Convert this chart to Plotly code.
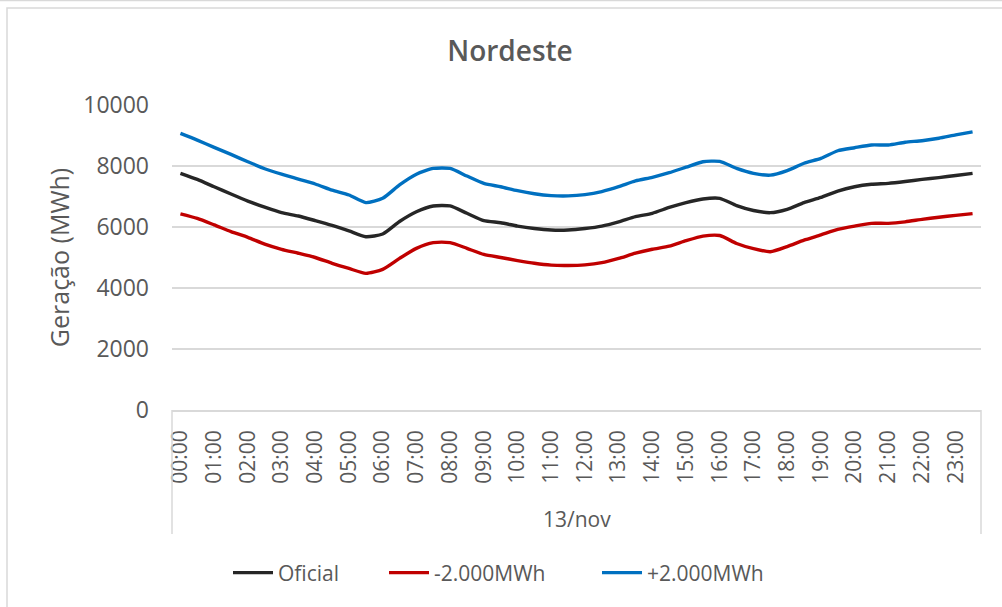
import plotly.graph_objects as go

# Half-hourly slots of 13/nov
horarios = [
    "00:00", "00:30", "01:00", "01:30", "02:00", "02:30", "03:00", "03:30",
    "04:00", "04:30", "05:00", "05:30", "06:00", "06:30", "07:00", "07:30",
    "08:00", "08:30", "09:00", "09:30", "10:00", "10:30", "11:00", "11:30",
    "12:00", "12:30", "13:00", "13:30", "14:00", "14:30", "15:00", "15:30",
    "16:00", "16:30", "17:00", "17:30", "18:00", "18:30", "19:00", "19:30",
    "20:00", "20:30", "21:00", "21:30", "22:00", "22:30", "23:00", "23:30",
]
# Hour labels shown on the axis
rotulos_hora = [
    "00:00", "01:00", "02:00", "03:00", "04:00", "05:00", "06:00", "07:00",
    "08:00", "09:00", "10:00", "11:00", "12:00", "13:00", "14:00", "15:00",
    "16:00", "17:00", "18:00", "19:00", "20:00", "21:00", "22:00", "23:00",
]
dia = "13/nov"

# Generation (MWh)
oficial = [
    7760, 7560, 7320, 7080, 6850, 6650, 6470, 6360, 6210, 6050, 5870, 5680,
    5770, 6180, 6500, 6690, 6690, 6450, 6210, 6140, 6030, 5950, 5900, 5900,
    5950, 6030, 6170, 6340, 6450, 6640, 6800, 6920, 6940, 6700, 6540, 6470,
    6580, 6800, 6970, 7180, 7320, 7400, 7430, 7490, 7560, 7620, 7690, 7760,
]
menos_2000 = [
    6430, 6280, 6070, 5850, 5660, 5440, 5270, 5140, 5000, 4810, 4640, 4480,
    4610, 4970, 5300, 5490, 5490, 5300, 5100, 5000, 4900, 4810, 4750, 4740,
    4760, 4830, 4970, 5140, 5270, 5370, 5550, 5700, 5720, 5460, 5290, 5190,
    5360, 5570, 5740, 5920, 6030, 6120, 6120, 6170, 6250, 6320, 6380, 6440,
]
mais_2000 = [
    9070, 8850, 8610, 8380, 8140, 7910, 7730, 7570, 7410, 7210, 7050, 6800,
    6940, 7380, 7730, 7920, 7920, 7670, 7430, 7320, 7190, 7090, 7030, 7020,
    7060, 7160, 7320, 7510, 7630, 7780, 7960, 8140, 8150, 7920, 7760, 7700,
    7850, 8090, 8250, 8500, 8600, 8690, 8690, 8780, 8830, 8910, 9020, 9120,
]

# name, values, colour, legend slot, left edge of the legend entry (px)
series = [
    ("Oficial", oficial, "#262626", "legend", 228),
    ("-2.000MWh", menos_2000, "#C00000", "legend2", 384),
    ("+2.000MWh", mais_2000, "#0070C0", "legend3", 597),
]

FONTE = "Open Sans"
CINZA_TEXTO = "#595959"
CINZA_LINHA = "#D9D9D9"

W, H = 1002, 607
L, R, T, B = 172, 21, 105, 197
pw, ph = W - L - R, H - T - B

def px_x(p):
    return (p - L) / pw

def px_y(p):
    return (H - B - p) / ph

fig = go.Figure()
legendas = {}
for nome, valores, cor, leg, x_leg in series:
    fig.add_trace(go.Scatter(
        x=horarios, y=valores, name=nome, mode="lines", legend=leg,
        line=dict(color=cor, width=3.4, shape="spline", smoothing=0.6),
    ))
    legendas[leg] = dict(
        orientation="h", xref="container", x=x_leg / W, xanchor="left",
        yref="container", y=1 - 573 / H, yanchor="middle",
        font=dict(family=FONTE, size=21, color=CINZA_TEXTO),
        bgcolor="rgba(0,0,0,0)", itemwidth=40,
    )

fig.update_layout(
    width=W, height=H,
    margin=dict(l=L, r=R, t=T, b=B),
    paper_bgcolor="white", plot_bgcolor="white",
    font=dict(family=FONTE, color=CINZA_TEXTO, size=21),
    title=dict(
        text="Nordeste", x=510 / W, xref="container", xanchor="center",
        y=1 - 51 / H, yref="container", yanchor="middle",
        font=dict(family=FONTE, size=28, color=CINZA_TEXTO, weight=600),
    ),
    showlegend=True,
    **legendas,
    xaxis=dict(
        type="category", categoryorder="array", categoryarray=horarios,
        range=[-0.5, len(horarios) - 0.5],
        tickmode="array", tickvals=rotulos_hora, ticktext=rotulos_hora,
        tickangle=-90, ticklabelstandoff=10,
        showgrid=False, showline=True, linecolor=CINZA_LINHA, linewidth=1.5,
        ticks="", tickfont=dict(family=FONTE, size=21, color=CINZA_TEXTO),
        fixedrange=True,
    ),
    yaxis=dict(
        range=[0, 10000], tickmode="array",
        tickvals=[0, 2000, 4000, 6000, 8000, 10000],
        ticktext=["0", "2000", "4000", "6000", "8000", "10000"],
        showgrid=True, gridcolor=CINZA_LINHA, gridwidth=1.5,
        zeroline=False, showline=False, ticks="", ticklabelstandoff=22,
        tickfont=dict(family=FONTE, size=23, color=CINZA_TEXTO),
        title=dict(text="Geração (MWh)", standoff=6,
                   font=dict(family=FONTE, size=25, color=CINZA_TEXTO)),
        fixedrange=True,
    ),
)

# Category group bracket for the day, below the hour labels
for xb in (0, 1):
    fig.add_shape(type="line", xref="paper", yref="paper",
                  x0=xb, x1=xb, y0=0, y1=px_y(534),
                  line=dict(color=CINZA_LINHA, width=1.5))
fig.add_annotation(text=dia, xref="paper", yref="paper", x=0.5, y=px_y(519),
                   showarrow=False, xanchor="center", yanchor="middle",
                   font=dict(family=FONTE, size=21, color=CINZA_TEXTO))

# Chart frame
fig.add_shape(type="rect", xref="paper", yref="paper",
              x0=px_x(7), x1=px_x(1016), y0=px_y(8), y1=px_y(620),
              line=dict(color=CINZA_LINHA, width=1.5), layer="below")
fig.add_shape(type="line", xref="paper", yref="paper",
              x0=px_x(0), x1=px_x(1002), y0=px_y(0.5), y1=px_y(0.5),
              line=dict(color=CINZA_LINHA, width=1.5), layer="below")

fig.write_html("out.html")
